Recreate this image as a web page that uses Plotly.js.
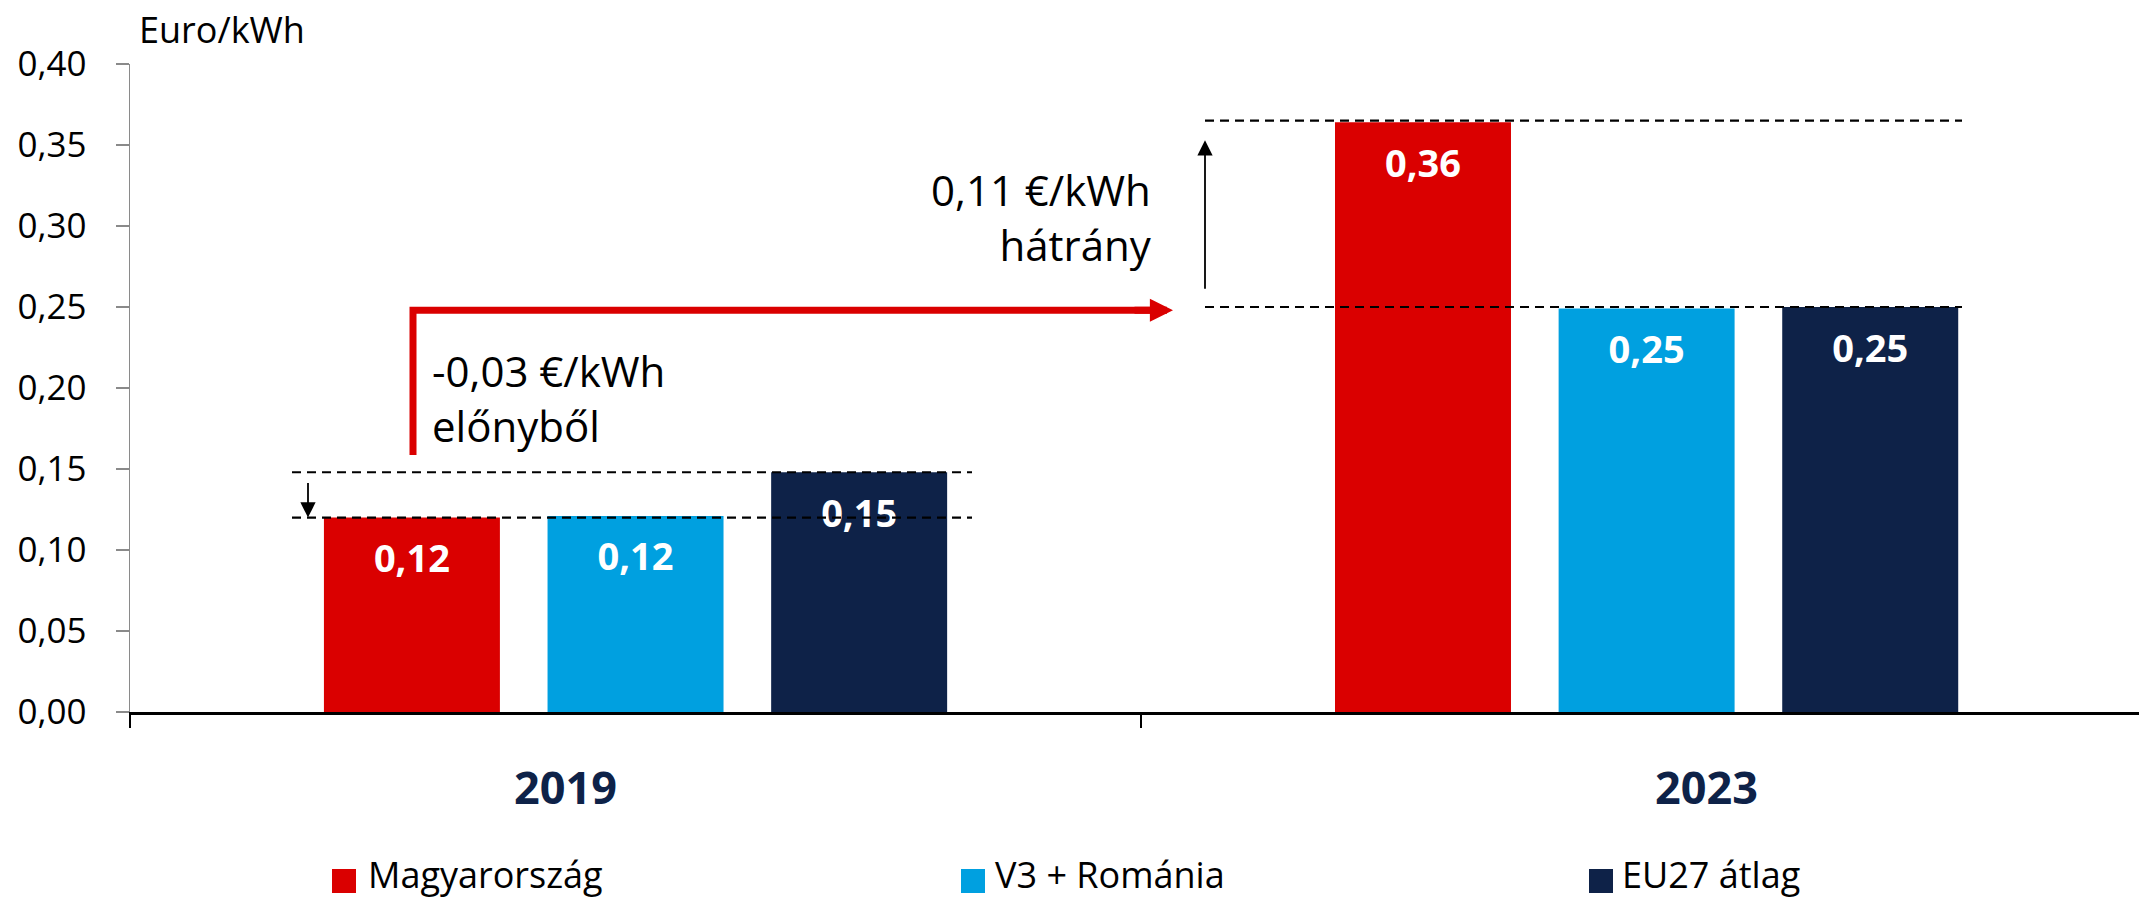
<!DOCTYPE html>
<html>
<head>
<meta charset="utf-8">
<script src="https://cdn.plot.ly/plotly-3.0.1.min.js"></script>
<style>
  html, body { margin: 0; padding: 0; background: #ffffff; }
  #chart { width: 2139px; height: 900px; }
</style>
</head>
<body>
<div id="chart"></div>
<script>
// ---- data ----
const years = ['2019', '2023'];
const seriesNames = ['Magyarország', 'V3 + Románia', 'EU27 átlag'];
const hungary = [0.120, 0.364];
const v3Romania = [0.121, 0.249];
const eu27 = [0.148, 0.250];
const yTickVals = [0, 0.05, 0.10, 0.15, 0.20, 0.25, 0.30, 0.35, 0.40];
const yAxisTitle = 'Euro/kWh';
const noteLoss = ['-0,03 €/kWh', 'előnyből'];
const noteGap = ['0,11 €/kWh', 'hátrány'];

// ---- styling ----
const seriesValues = [hungary, v3Romania, eu27];
const seriesColors = ['#DA0000', '#00A0E0', '#0E2248'];
const FONT = 'Open Sans, Noto Sans, sans-serif';
const W = 2139, H = 900;
const M = { l: 130, r: 0, t: 64, b: 188 };
const PW = W - M.l - M.r, PH = H - M.t - M.b;
const XRANGE = [-0.5, 1.487];
const px = v => (v - M.l) / PW;          // pixel x -> paper x
const py = v => (H - M.b - v) / PH;      // pixel y -> paper y
const catToPaper = i => (i - XRANGE[0]) / (XRANGE[1] - XRANGE[0]);
const GAP = 0.3365, GROUPGAP = 0.213;

const traces = [];
seriesNames.forEach((name, i) => {
  traces.push({
    type: 'bar', name: name, x: years, y: seriesValues[i],
    offsetgroup: 'g' + i,
    marker: { color: seriesColors[i], line: { width: 0 } },
    showlegend: false, hoverinfo: 'skip'
  });
});
// value labels (placed inside the bars, under the top)
seriesNames.forEach((name, i) => {
  traces.push({
    type: 'scatter', mode: 'markers+text', name: name + ' label',
    x: years, y: seriesValues[i], offsetgroup: 'g' + i,
    marker: { size: 40, color: 'rgba(0,0,0,0)', line: { width: 0 } },
    texttemplate: '%{y:.2f}', textposition: 'bottom center',
    textfont: { family: FONT, size: 38, color: '#ffffff', weight: 'bold' },
    cliponaxis: false, showlegend: false, hoverinfo: 'skip'
  });
});

const dash = { color: '#000000', width: 2.2, dash: '9px,6px' };
const shapes = [
  { type: 'line', xref: 'paper', yref: 'y', x0: px(292), x1: px(972), y0: eu27[0], y1: eu27[0], line: dash },
  { type: 'line', xref: 'paper', yref: 'y', x0: px(292), x1: px(972), y0: hungary[0], y1: hungary[0], line: dash },
  { type: 'line', xref: 'paper', yref: 'y', x0: px(1205), x1: px(1962), y0: hungary[1] + 0.001, y1: hungary[1] + 0.001, line: dash },
  { type: 'line', xref: 'paper', yref: 'y', x0: px(1205), x1: px(1962), y0: eu27[1], y1: eu27[1], line: dash },
  // red elbow connector
  { type: 'path', xref: 'paper', yref: 'y',
    path: `M${px(413)},0.1586 L${px(413)},0.248 L${px(1152)},0.248`,
    line: { color: '#DA0000', width: 7 } }
];

const annotations = [];
// red arrow head
annotations.push({ xref: 'paper', yref: 'y', x: px(1173), y: 0.248, text: '', showarrow: true,
  ax: -40, ay: 0, arrowhead: 2, arrowwidth: 7, arrowsize: 0.66, arrowcolor: '#DA0000', standoff: 0 });
// small down arrow (2019)
annotations.push({ xref: 'paper', yref: 'y', x: px(308), y: hungary[0], text: '', showarrow: true,
  ax: 0, ay: -36, arrowhead: 2, arrowwidth: 1.8, arrowsize: 1.7, arrowcolor: '#000000', standoff: 0 });
// up arrow (2023)
annotations.push({ xref: 'paper', yref: 'y', x: px(1205), y: 0.353, text: '', showarrow: true,
  ax: 0, ay: 150, arrowhead: 2, arrowwidth: 1.8, arrowsize: 1.7, arrowcolor: '#000000', standoff: 0 });

const noteFont = { family: FONT, size: 42, color: '#000000' };
annotations.push({ xref: 'paper', yref: 'paper', x: px(431), y: py(398), xanchor: 'left', yanchor: 'middle',
  align: 'left', borderpad: 0, text: noteLoss.join('<br>'), showarrow: false, font: noteFont });
annotations.push({ xref: 'paper', yref: 'paper', x: px(1153), y: py(217), xanchor: 'right', yanchor: 'middle',
  align: 'right', borderpad: 0, text: noteGap.join('<br>'), showarrow: false, font: noteFont });

// axis unit title
annotations.push({ xref: 'paper', yref: 'paper', x: px(138), y: py(29), xanchor: 'left', yanchor: 'middle',
  borderpad: 0, text: yAxisTitle, showarrow: false, font: { family: FONT, size: 36, color: '#000000' } });

// category labels
const yearShiftPx = [-70, 60];
years.forEach((yr, i) => {
  annotations.push({ xref: 'paper', yref: 'paper', x: catToPaper(i) + yearShiftPx[i] / PW, y: py(786),
    xanchor: 'center', yanchor: 'middle', text: '<b>' + yr + '</b>', showarrow: false,
    font: { family: FONT, size: 45, color: '#0E2248' } });
});

// custom legend
const legSquareLeft = [332, 961, 1589];
const legTextLeft = [369, 996, 1623];
seriesNames.forEach((name, i) => {
  shapes.push({ type: 'rect', xref: 'paper', yref: 'paper',
    x0: px(legSquareLeft[i]), x1: px(legSquareLeft[i] + 24), y0: py(869), y1: py(893),
    fillcolor: seriesColors[i], line: { width: 0 } });
  annotations.push({ xref: 'paper', yref: 'paper', x: px(legTextLeft[i] - 2), y: py(875),
    xanchor: 'left', yanchor: 'middle', borderpad: 0, text: name, showarrow: false,
    font: { family: FONT, size: 36, color: '#000000' } });
});

const layout = {
  width: W, height: H,
  margin: M,
  paper_bgcolor: '#ffffff', plot_bgcolor: '#ffffff',
  separators: ', ',
  barmode: 'group', bargap: GAP, bargroupgap: GROUPGAP,
  scattermode: 'group', scattergap: GAP,
  showlegend: false,
  font: { family: FONT, color: '#000000' },
  xaxis: {
    type: 'category', range: XRANGE, fixedrange: true,
    showline: true, linecolor: '#000000', linewidth: 2.5,
    ticks: 'outside', tickson: 'boundaries', ticklen: 13, tickwidth: 1.5, tickcolor: '#000000',
    showticklabels: false, showgrid: false, zeroline: false
  },
  yaxis: {
    range: [0, 0.40], fixedrange: true,
    tickvals: yTickVals, tickformat: '.2f',
    showline: true, linecolor: '#8A8A8A', linewidth: 1.5,
    ticks: 'outside', ticklen: 13, tickwidth: 1.5, tickcolor: '#8A8A8A',
    ticklabelstandoff: 22,
    tickfont: { family: FONT, size: 35, color: '#000000' },
    showgrid: false, zeroline: false
  },
  shapes: shapes,
  annotations: annotations
};

Plotly.newPlot('chart', traces, layout, { staticPlot: true, displayModeBar: false });
</script>
</body>
</html>
